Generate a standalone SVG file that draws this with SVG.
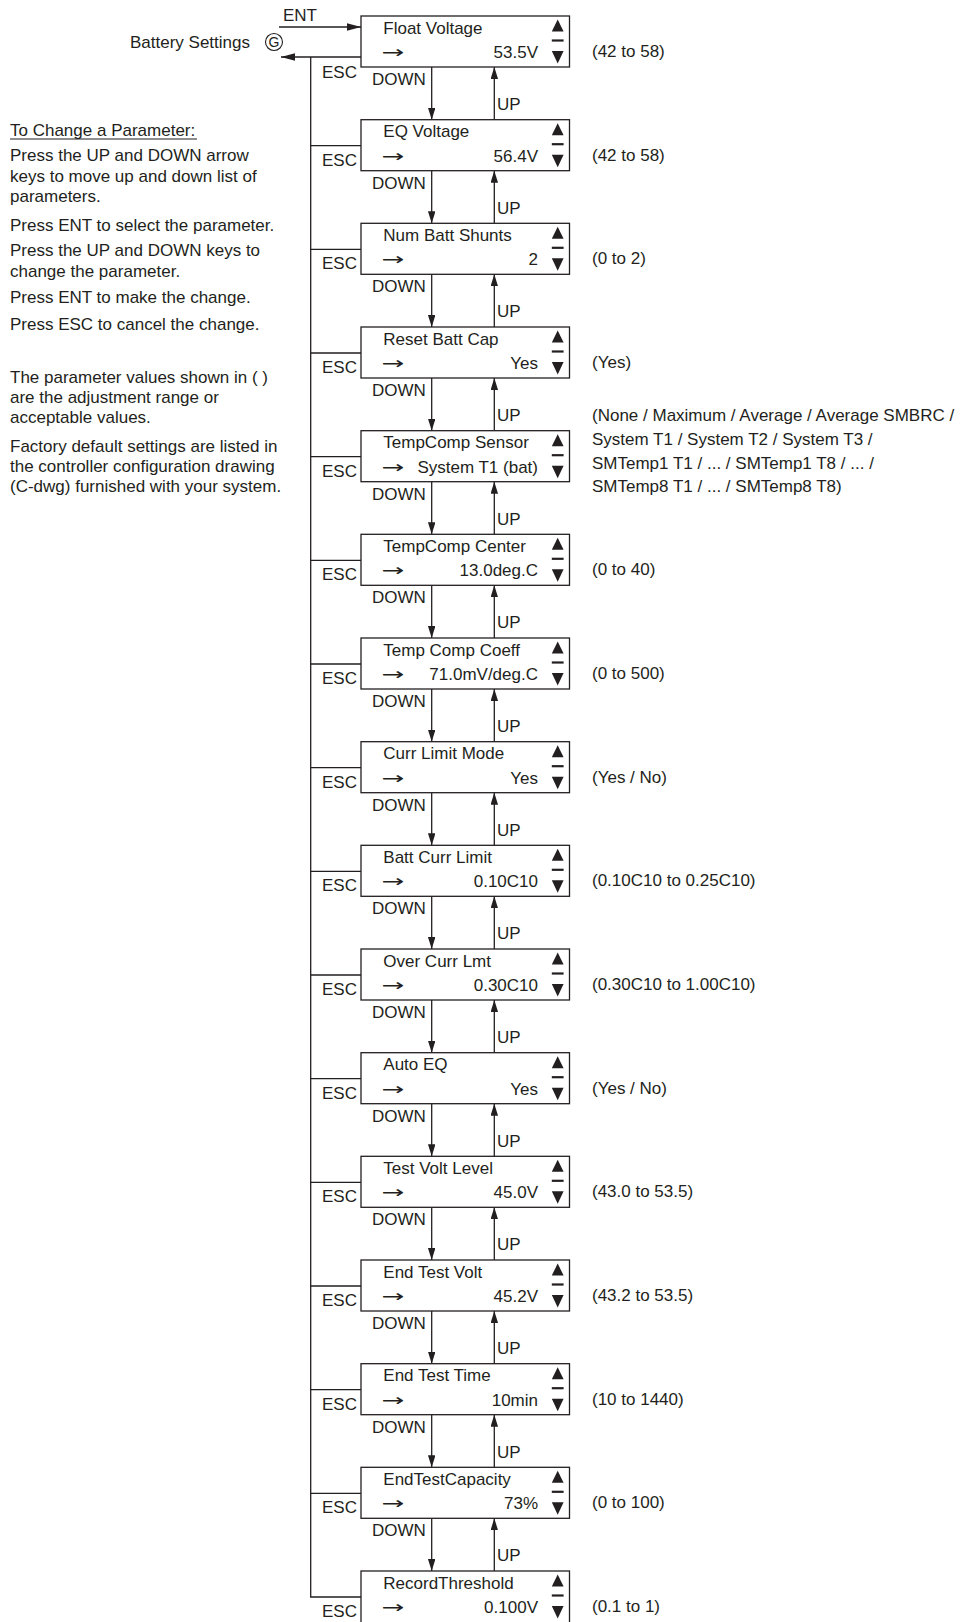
<svg xmlns="http://www.w3.org/2000/svg" xmlns:xlink="http://www.w3.org/1999/xlink" width="967" height="1622" viewBox="0 0 967 1622">
<style>
text{font-family:"Liberation Sans",Arial,sans-serif;font-size:17px;fill:#231f20}
.box{fill:#fff;stroke:#231f20;stroke-width:1.3}
.ln{fill:none;stroke:#231f20;stroke-width:1.3}
.val{text-anchor:end}
.esc{text-anchor:end}
.tri{fill:#231f20}
.arr{font-family:"DejaVu Sans",sans-serif;font-size:17px}
</style>
<defs>
<marker id="ah" markerUnits="userSpaceOnUse" markerWidth="14" markerHeight="10" refX="12" refY="3.75" orient="auto">
<path d="M0,0 L12,3.75 L0,7.5 Z" fill="#231f20"/>
</marker>
<marker id="ahL" markerUnits="userSpaceOnUse" markerWidth="16" markerHeight="10" refX="14" refY="3.75" orient="auto">
<path d="M0,0 L14,3.75 L0,7.5 Z" fill="#231f20"/>
</marker>
<g id="updn">
<path class="tri" d="M551.8,15.5 L563.6,15.5 L557.7,3.5 Z"/>
<line x1="551.8" y1="24.5" x2="563.6" y2="24.5" stroke="#231f20" stroke-width="2.2"/>
<path class="tri" d="M551.8,35 L563.6,35 L557.7,47.5 Z"/>
</g>
</defs>

<g id="notes">
<text x="130" y="48">Battery Settings</text>
<circle cx="274" cy="42" r="8.5" fill="none" stroke="#231f20" stroke-width="1.1"/>
<text x="274" y="47" text-anchor="middle" style="font-size:14px">G</text>
<text x="10" y="135.5">To Change a Parameter:</text>
<line x1="10" y1="139" x2="197" y2="139" stroke="#231f20" stroke-width="1.1"/>
<text x="10" y="161">Press the UP and DOWN arrow</text>
<text x="10" y="181.5">keys to move up and down list of</text>
<text x="10" y="202">parameters.</text>
<text x="10" y="230.5">Press ENT to select the parameter.</text>
<text x="10" y="256">Press the UP and DOWN keys to</text>
<text x="10" y="276.5">change the parameter.</text>
<text x="10" y="303">Press ENT to make the change.</text>
<text x="10" y="330">Press ESC to cancel the change.</text>
<text x="10" y="383">The parameter values shown in ( )</text>
<text x="10" y="403">are the adjustment range or</text>
<text x="10" y="423">acceptable values.</text>
<text x="10" y="452">Factory default settings are listed in</text>
<text x="10" y="472">the controller configuration drawing</text>
<text x="10" y="492">(C-dwg) furnished with your system.</text>
</g>

<g id="connectors">
<line class="ln" x1="279" y1="27" x2="361" y2="27" marker-end="url(#ahL)"/>
<text x="283" y="20.5">ENT</text>
<line class="ln" x1="361" y1="57" x2="281" y2="57" marker-end="url(#ahL)"/>
<path class="ln" d="M310.7,57 V1597 H361"/>
<path class="ln" d="M310.7,145.7 H361 M310.7,249.3 H361 M310.7,353 H361 M310.7,456.7 H361 M310.7,560.3 H361 M310.7,664 H361 M310.7,767.7 H361 M310.7,871.3 H361 M310.7,975 H361 M310.7,1078.7 H361 M310.7,1182.3 H361 M310.7,1286 H361 M310.7,1389.7 H361 M310.7,1493.3 H361"/>
<text class="esc" x="357" y="78">ESC</text>
<text class="esc" x="357" y="165.7">ESC</text>
<text class="esc" x="357" y="269.3">ESC</text>
<text class="esc" x="357" y="373">ESC</text>
<text class="esc" x="357" y="476.7">ESC</text>
<text class="esc" x="357" y="580.3">ESC</text>
<text class="esc" x="357" y="684">ESC</text>
<text class="esc" x="357" y="787.7">ESC</text>
<text class="esc" x="357" y="891.3">ESC</text>
<text class="esc" x="357" y="995">ESC</text>
<text class="esc" x="357" y="1098.7">ESC</text>
<text class="esc" x="357" y="1202.3">ESC</text>
<text class="esc" x="357" y="1306">ESC</text>
<text class="esc" x="357" y="1409.7">ESC</text>
<text class="esc" x="357" y="1513.3">ESC</text>
<text class="esc" x="357" y="1617">ESC</text>

<g id="downup">
<line class="ln" x1="431.7" y1="67" x2="431.7" y2="119.7" marker-end="url(#ah)"/>
<line class="ln" x1="494.3" y1="119.7" x2="494.3" y2="67" marker-end="url(#ah)"/>
<text x="372" y="85">DOWN</text><text x="497" y="110">UP</text>
<line class="ln" x1="431.7" y1="170.7" x2="431.7" y2="223.3" marker-end="url(#ah)"/>
<line class="ln" x1="494.3" y1="223.3" x2="494.3" y2="170.7" marker-end="url(#ah)"/>
<text x="372" y="188.7">DOWN</text><text x="497" y="213.7">UP</text>
<line class="ln" x1="431.7" y1="274.3" x2="431.7" y2="327" marker-end="url(#ah)"/>
<line class="ln" x1="494.3" y1="327" x2="494.3" y2="274.3" marker-end="url(#ah)"/>
<text x="372" y="292.3">DOWN</text><text x="497" y="317.3">UP</text>
<line class="ln" x1="431.7" y1="378" x2="431.7" y2="430.7" marker-end="url(#ah)"/>
<line class="ln" x1="494.3" y1="430.7" x2="494.3" y2="378" marker-end="url(#ah)"/>
<text x="372" y="396">DOWN</text><text x="497" y="421">UP</text>
<line class="ln" x1="431.7" y1="481.7" x2="431.7" y2="534.3" marker-end="url(#ah)"/>
<line class="ln" x1="494.3" y1="534.3" x2="494.3" y2="481.7" marker-end="url(#ah)"/>
<text x="372" y="499.7">DOWN</text><text x="497" y="524.7">UP</text>
<line class="ln" x1="431.7" y1="585.3" x2="431.7" y2="638" marker-end="url(#ah)"/>
<line class="ln" x1="494.3" y1="638" x2="494.3" y2="585.3" marker-end="url(#ah)"/>
<text x="372" y="603.3">DOWN</text><text x="497" y="628.3">UP</text>
<line class="ln" x1="431.7" y1="689" x2="431.7" y2="741.7" marker-end="url(#ah)"/>
<line class="ln" x1="494.3" y1="741.7" x2="494.3" y2="689" marker-end="url(#ah)"/>
<text x="372" y="707">DOWN</text><text x="497" y="732">UP</text>
<line class="ln" x1="431.7" y1="792.7" x2="431.7" y2="845.3" marker-end="url(#ah)"/>
<line class="ln" x1="494.3" y1="845.3" x2="494.3" y2="792.7" marker-end="url(#ah)"/>
<text x="372" y="810.7">DOWN</text><text x="497" y="835.7">UP</text>
<line class="ln" x1="431.7" y1="896.3" x2="431.7" y2="949" marker-end="url(#ah)"/>
<line class="ln" x1="494.3" y1="949" x2="494.3" y2="896.3" marker-end="url(#ah)"/>
<text x="372" y="914.3">DOWN</text><text x="497" y="939.3">UP</text>
<line class="ln" x1="431.7" y1="1000" x2="431.7" y2="1052.7" marker-end="url(#ah)"/>
<line class="ln" x1="494.3" y1="1052.7" x2="494.3" y2="1000" marker-end="url(#ah)"/>
<text x="372" y="1018">DOWN</text><text x="497" y="1043">UP</text>
<line class="ln" x1="431.7" y1="1103.7" x2="431.7" y2="1156.3" marker-end="url(#ah)"/>
<line class="ln" x1="494.3" y1="1156.3" x2="494.3" y2="1103.7" marker-end="url(#ah)"/>
<text x="372" y="1121.7">DOWN</text><text x="497" y="1146.7">UP</text>
<line class="ln" x1="431.7" y1="1207.3" x2="431.7" y2="1260" marker-end="url(#ah)"/>
<line class="ln" x1="494.3" y1="1260" x2="494.3" y2="1207.3" marker-end="url(#ah)"/>
<text x="372" y="1225.3">DOWN</text><text x="497" y="1250.3">UP</text>
<line class="ln" x1="431.7" y1="1311" x2="431.7" y2="1363.7" marker-end="url(#ah)"/>
<line class="ln" x1="494.3" y1="1363.7" x2="494.3" y2="1311" marker-end="url(#ah)"/>
<text x="372" y="1329">DOWN</text><text x="497" y="1354">UP</text>
<line class="ln" x1="431.7" y1="1414.7" x2="431.7" y2="1467.3" marker-end="url(#ah)"/>
<line class="ln" x1="494.3" y1="1467.3" x2="494.3" y2="1414.7" marker-end="url(#ah)"/>
<text x="372" y="1432.7">DOWN</text><text x="497" y="1457.7">UP</text>
<line class="ln" x1="431.7" y1="1518.3" x2="431.7" y2="1571" marker-end="url(#ah)"/>
<line class="ln" x1="494.3" y1="1571" x2="494.3" y2="1518.3" marker-end="url(#ah)"/>
<text x="372" y="1536.3">DOWN</text><text x="497" y="1561.3">UP</text>
</g>
</g>

<g id="node-float-voltage" transform="translate(0,16)">
<rect class="box" x="361" y="0" width="208.5" height="51"/>
<text x="383.3" y="17.5">Float Voltage</text>
<text class="arr" transform="translate(381.5,42) scale(1.6,1)">→</text>
<text class="val" x="538" y="42">53.5V</text>
<use xlink:href="#updn"/>
<text x="592" y="41">(42 to 58)</text>
</g>
<g id="node-eq-voltage" transform="translate(0,119.7)">
<rect class="box" x="361" y="0" width="208.5" height="51"/>
<text x="383.3" y="17.5">EQ Voltage</text>
<text class="arr" transform="translate(381.5,42) scale(1.6,1)">→</text>
<text class="val" x="538" y="42">56.4V</text>
<use xlink:href="#updn"/>
<text x="592" y="41">(42 to 58)</text>
</g>
<g id="node-num-batt-shunts" transform="translate(0,223.3)">
<rect class="box" x="361" y="0" width="208.5" height="51"/>
<text x="383.3" y="17.5">Num Batt Shunts</text>
<text class="arr" transform="translate(381.5,42) scale(1.6,1)">→</text>
<text class="val" x="538" y="42">2</text>
<use xlink:href="#updn"/>
<text x="592" y="41">(0 to 2)</text>
</g>
<g id="node-reset-batt-cap" transform="translate(0,327)">
<rect class="box" x="361" y="0" width="208.5" height="51"/>
<text x="383.3" y="17.5">Reset Batt Cap</text>
<text class="arr" transform="translate(381.5,42) scale(1.6,1)">→</text>
<text class="val" x="538" y="42">Yes</text>
<use xlink:href="#updn"/>
<text x="592" y="41">(Yes)</text>
</g>
<g id="node-tempcomp-sensor" transform="translate(0,430.7)">
<rect class="box" x="361" y="0" width="208.5" height="51"/>
<text x="383.3" y="17.5">TempComp Sensor</text>
<text class="arr" transform="translate(381.5,42) scale(1.6,1)">→</text>
<text class="val" x="538" y="42">System T1 (bat)</text>
<use xlink:href="#updn"/>
<text x="592" y="-9.5">(None / Maximum / Average / Average SMBRC /</text>
<text x="592" y="14.5">System T1 / System T2 / System T3 /</text>
<text x="592" y="38">SMTemp1 T1 / ... / SMTemp1 T8 / ... /</text>
<text x="592" y="61.5">SMTemp8 T1 / ... / SMTemp8 T8)</text>
</g>
<g id="node-tempcomp-center" transform="translate(0,534.3)">
<rect class="box" x="361" y="0" width="208.5" height="51"/>
<text x="383.3" y="17.5">TempComp Center</text>
<text class="arr" transform="translate(381.5,42) scale(1.6,1)">→</text>
<text class="val" x="538" y="42">13.0deg.C</text>
<use xlink:href="#updn"/>
<text x="592" y="41">(0 to 40)</text>
</g>
<g id="node-temp-comp-coeff" transform="translate(0,638)">
<rect class="box" x="361" y="0" width="208.5" height="51"/>
<text x="383.3" y="17.5">Temp Comp Coeff</text>
<text class="arr" transform="translate(381.5,42) scale(1.6,1)">→</text>
<text class="val" x="538" y="42">71.0mV/deg.C</text>
<use xlink:href="#updn"/>
<text x="592" y="41">(0 to 500)</text>
</g>
<g id="node-curr-limit-mode" transform="translate(0,741.7)">
<rect class="box" x="361" y="0" width="208.5" height="51"/>
<text x="383.3" y="17.5">Curr Limit Mode</text>
<text class="arr" transform="translate(381.5,42) scale(1.6,1)">→</text>
<text class="val" x="538" y="42">Yes</text>
<use xlink:href="#updn"/>
<text x="592" y="41">(Yes / No)</text>
</g>
<g id="node-batt-curr-limit" transform="translate(0,845.3)">
<rect class="box" x="361" y="0" width="208.5" height="51"/>
<text x="383.3" y="17.5">Batt Curr Limit</text>
<text class="arr" transform="translate(381.5,42) scale(1.6,1)">→</text>
<text class="val" x="538" y="42">0.10C10</text>
<use xlink:href="#updn"/>
<text x="592" y="41">(0.10C10 to 0.25C10)</text>
</g>
<g id="node-over-curr-lmt" transform="translate(0,949)">
<rect class="box" x="361" y="0" width="208.5" height="51"/>
<text x="383.3" y="17.5">Over Curr Lmt</text>
<text class="arr" transform="translate(381.5,42) scale(1.6,1)">→</text>
<text class="val" x="538" y="42">0.30C10</text>
<use xlink:href="#updn"/>
<text x="592" y="41">(0.30C10 to 1.00C10)</text>
</g>
<g id="node-auto-eq" transform="translate(0,1052.7)">
<rect class="box" x="361" y="0" width="208.5" height="51"/>
<text x="383.3" y="17.5">Auto EQ</text>
<text class="arr" transform="translate(381.5,42) scale(1.6,1)">→</text>
<text class="val" x="538" y="42">Yes</text>
<use xlink:href="#updn"/>
<text x="592" y="41">(Yes / No)</text>
</g>
<g id="node-test-volt-level" transform="translate(0,1156.3)">
<rect class="box" x="361" y="0" width="208.5" height="51"/>
<text x="383.3" y="17.5">Test Volt Level</text>
<text class="arr" transform="translate(381.5,42) scale(1.6,1)">→</text>
<text class="val" x="538" y="42">45.0V</text>
<use xlink:href="#updn"/>
<text x="592" y="41">(43.0 to 53.5)</text>
</g>
<g id="node-end-test-volt" transform="translate(0,1260)">
<rect class="box" x="361" y="0" width="208.5" height="51"/>
<text x="383.3" y="17.5">End Test Volt</text>
<text class="arr" transform="translate(381.5,42) scale(1.6,1)">→</text>
<text class="val" x="538" y="42">45.2V</text>
<use xlink:href="#updn"/>
<text x="592" y="41">(43.2 to 53.5)</text>
</g>
<g id="node-end-test-time" transform="translate(0,1363.7)">
<rect class="box" x="361" y="0" width="208.5" height="51"/>
<text x="383.3" y="17.5">End Test Time</text>
<text class="arr" transform="translate(381.5,42) scale(1.6,1)">→</text>
<text class="val" x="538" y="42">10min</text>
<use xlink:href="#updn"/>
<text x="592" y="41">(10 to 1440)</text>
</g>
<g id="node-endtestcapacity" transform="translate(0,1467.3)">
<rect class="box" x="361" y="0" width="208.5" height="51"/>
<text x="383.3" y="17.5">EndTestCapacity</text>
<text class="arr" transform="translate(381.5,42) scale(1.6,1)">→</text>
<text class="val" x="538" y="42">73%</text>
<use xlink:href="#updn"/>
<text x="592" y="41">(0 to 100)</text>
</g>
<g id="node-recordthreshold" transform="translate(0,1571)">
<rect class="box" x="361" y="0" width="208.5" height="55"/>
<text x="383.3" y="17.5">RecordThreshold</text>
<text class="arr" transform="translate(381.5,42) scale(1.6,1)">→</text>
<text class="val" x="538" y="42">0.100V</text>
<use xlink:href="#updn"/>
<text x="592" y="41">(0.1 to 1)</text>
</g>
</svg>
